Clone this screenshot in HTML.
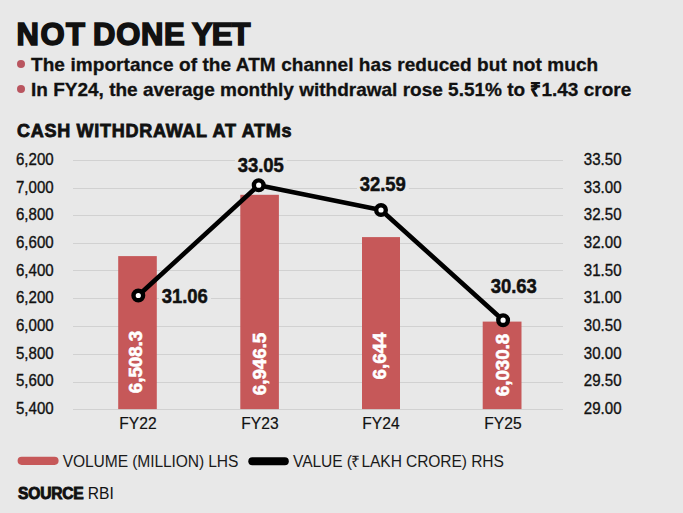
<!DOCTYPE html>
<html><head><meta charset="utf-8">
<style>
html,body{margin:0;padding:0;}
body{width:683px;height:513px;background:#e8e8e8;position:relative;overflow:hidden;font-family:"Liberation Sans",sans-serif;color:#111;}
.a{position:absolute;white-space:nowrap;line-height:1;}
.title{left:16.5px;top:18.5px;font-size:31px;font-weight:bold;-webkit-text-stroke:1.6px #111;letter-spacing:0;word-spacing:-2px;}
.bul{left:31px;font-size:19px;font-weight:bold;letter-spacing:0.08px;-webkit-text-stroke:0.3px #111;}
.dot{position:absolute;width:8px;height:8px;border-radius:50%;background:#b9555f;left:16.5px;}
.ctitle{left:17px;top:121.7px;font-size:18px;font-weight:bold;letter-spacing:0.72px;-webkit-text-stroke:0.8px #111;}
.yl{font-size:16.2px;transform-origin:0 0;transform:scaleX(0.93);-webkit-text-stroke:0.35px #111;}
.yr{font-size:16.2px;transform-origin:100% 0;transform:scaleX(0.93);-webkit-text-stroke:0.35px #111;}
.grid{position:absolute;left:73px;width:489.5px;height:1px;background:#d1d1d1;}
.xl{font-size:15.6px;-webkit-text-stroke:0.2px #111;}
.vl{font-size:21px;font-weight:bold;transform-origin:0 0;transform:scaleX(0.88);-webkit-text-stroke:0.5px #111;background:#e8e8e8;padding:0 3px;margin-left:-3px;}
.leg{font-size:15.6px;top:454.3px;letter-spacing:-0.1px;color:#1a1a1a;}
.lab{position:absolute;white-space:nowrap;line-height:1;color:#fff;font-weight:bold;font-size:19px;-webkit-text-stroke:0.6px #fff;transform:translate(-50%,-50%) rotate(-90deg) scaleX(0.985);}
</style></head><body>
<div class="a title"><span style="letter-spacing:1.5px">NOT</span> <span style="letter-spacing:0.7px">DONE</span> <span style="letter-spacing:-0.9px">YET</span></div>
<div class="dot" style="top:60.3px"></div>
<div class="a bul" style="top:55px">The importance of the ATM channel has reduced but not much</div>
<div class="dot" style="top:85.3px"></div>
<div class="a bul" style="top:80px;letter-spacing:0">In FY24, the average monthly withdrawal rose 5.51% to ₹1.43 crore</div>
<div class="a ctitle">CASH WITHDRAWAL AT ATMs</div>

<div class="grid" style="top:160px"></div>
<div class="grid" style="top:187.5px"></div>
<div class="grid" style="top:215px"></div>
<div class="grid" style="top:243px"></div>
<div class="grid" style="top:270px"></div>
<div class="grid" style="top:298px"></div>
<div class="grid" style="top:326px"></div>
<div class="grid" style="top:354px"></div>
<div class="grid" style="top:381.5px"></div>
<div class="grid" style="top:409px"></div>

<div class="a yl" style="left:16.4px;top:150.8px">6,200</div>
<div class="a yl" style="left:16.4px;top:178.5px">7,000</div>
<div class="a yl" style="left:16.4px;top:206.1px">6,800</div>
<div class="a yl" style="left:16.4px;top:233.8px">6,600</div>
<div class="a yl" style="left:16.4px;top:261.5px">6,400</div>
<div class="a yl" style="left:16.4px;top:289.1px">6,200</div>
<div class="a yl" style="left:16.4px;top:316.8px">6,000</div>
<div class="a yl" style="left:16.4px;top:344.5px">5,800</div>
<div class="a yl" style="left:16.4px;top:372.1px">5,600</div>
<div class="a yl" style="left:16.4px;top:399.8px">5,400</div>

<div class="a yr" style="left:581.3px;top:150.8px">33.50</div>
<div class="a yr" style="left:581.3px;top:178.5px">33.00</div>
<div class="a yr" style="left:581.3px;top:206.1px">32.50</div>
<div class="a yr" style="left:581.3px;top:233.8px">32.00</div>
<div class="a yr" style="left:581.3px;top:261.5px">31.50</div>
<div class="a yr" style="left:581.3px;top:289.1px">31.00</div>
<div class="a yr" style="left:581.3px;top:316.8px">30.50</div>
<div class="a yr" style="left:581.3px;top:344.5px">30.00</div>
<div class="a yr" style="left:581.3px;top:372.1px">29.50</div>
<div class="a yr" style="left:581.3px;top:399.8px">29.00</div>

<svg class="a" style="left:0;top:0" width="683" height="513">
  <rect x="118.2" y="256.1" width="38.6" height="153" fill="#c65859"/>
  <rect x="240.3" y="194.8" width="38.6" height="214.3" fill="#c65859"/>
  <rect x="362" y="237.1" width="38" height="172" fill="#c65859"/>
  <rect x="482.7" y="321.6" width="38.8" height="87.5" fill="#c65859"/>
  <polyline points="138.3,295.5 258.7,185.2 381,210 503.1,320.2" fill="none" stroke="#000" stroke-width="4.6" stroke-linejoin="round"/>
  <circle cx="138.3" cy="295.5" r="4.8" fill="#fff" stroke="#000" stroke-width="4.4"/>
  <circle cx="258.7" cy="185.2" r="4.8" fill="#fff" stroke="#000" stroke-width="4.4"/>
  <circle cx="381" cy="210" r="4.8" fill="#fff" stroke="#000" stroke-width="4.4"/>
  <circle cx="503.1" cy="320.2" r="4.8" fill="#fff" stroke="#000" stroke-width="4.4"/>
  <rect x="17.6" y="456.7" width="41" height="8.2" rx="4.1" fill="#c65859"/>
  <rect x="248.3" y="457.3" width="40.5" height="8" rx="4" fill="#000"/>
</svg>

<div class="lab" style="left:134.9px;top:361.5px">6,508.3</div>
<div class="lab" style="left:258.8px;top:363.7px">6,946.5</div>
<div class="lab" style="left:378.9px;top:355.5px">6,644</div>
<div class="lab" style="left:501.5px;top:365.4px">6,030.8</div>

<div class="a vl" style="left:162px;top:285px">31.06</div>
<div class="a vl" style="left:238px;top:154px">33.05</div>
<div class="a vl" style="left:360px;top:173px">32.59</div>
<div class="a vl" style="left:491px;top:275px">30.63</div>

<div class="a xl" style="left:119.3px;top:416.3px">FY22</div>
<div class="a xl" style="left:241.3px;top:416.3px">FY23</div>
<div class="a xl" style="left:362.3px;top:416.3px">FY24</div>
<div class="a xl" style="left:484.3px;top:416.3px">FY25</div>

<div class="a leg" style="left:62.7px">VOLUME (MILLION) LHS</div>
<div class="a leg" style="left:293px">VALUE (<span style="margin-left:-1px;margin-right:-2.5px">₹</span> LAKH CRORE) RHS</div>
<div class="a" style="left:18px;top:486.3px;font-size:15.6px"><b style="-webkit-text-stroke:0.9px #111;letter-spacing:-0.2px">SOURCE</b> RBI</div>
</body></html>
